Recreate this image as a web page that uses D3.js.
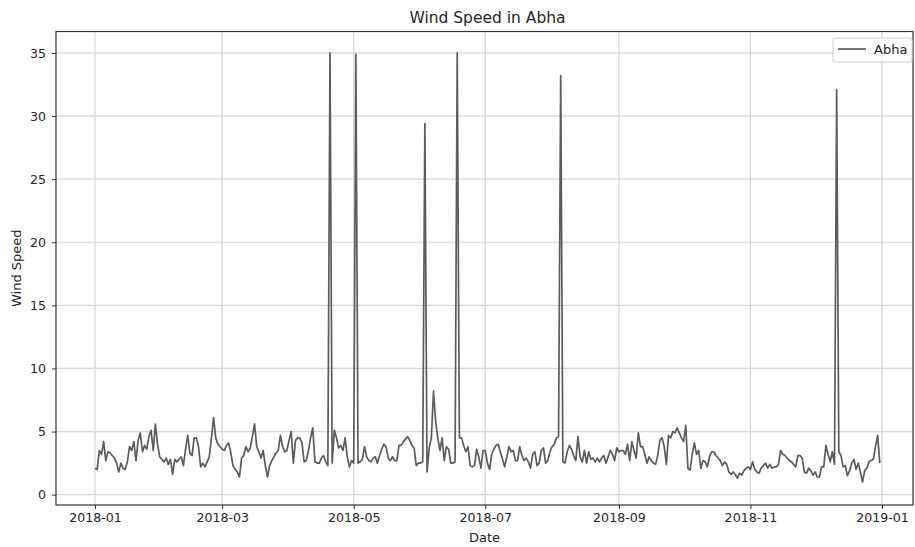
<!DOCTYPE html>
<html>
<head>
<meta charset="utf-8">
<script src="https://cdnjs.cloudflare.com/ajax/libs/d3/7.8.5/d3.min.js"></script>
<style>
body { margin: 0; background: #fff; }
text { font-family: "DejaVu Sans", sans-serif; fill: #262626; }
</style>
</head>
<body>
<div id="chart"></div>
<script>
// daily wind speed for Abha, 2018-01-01 .. 2018-12-31
var windSpeed = [
    2.1, 2.0, 3.5, 3.2, 4.2, 2.7, 3.4, 3.3, 3.1, 2.9,
    2.5, 1.8, 2.5, 2.1, 2.0, 2.6, 3.8, 3.5, 4.2, 2.7,
    4.3, 4.9, 3.4, 3.9, 3.6, 4.6, 5.1, 3.5, 5.6, 4.0,
    3.0, 2.8, 2.6, 2.9, 2.4, 2.8, 1.6, 2.8, 2.6, 2.8,
    3.0, 2.3, 3.6, 4.7, 3.3, 3.1, 4.5, 4.5, 3.8, 2.2,
    2.5, 2.2, 2.6, 3.0, 4.5, 6.1, 4.5, 4.0, 3.8, 3.6,
    3.5, 3.9, 4.1, 3.3, 2.3, 2.0, 1.8, 1.4, 2.9, 3.1,
    3.8, 3.4, 3.7, 4.6, 5.6, 3.8, 3.4, 2.9, 3.5, 2.3,
    1.4, 2.3, 2.7, 3.0, 3.3, 3.5, 4.7, 3.8, 3.4, 3.5,
    4.3, 5.0, 2.5, 4.3, 4.5, 4.5, 4.1, 2.6, 2.7, 3.5,
    4.5, 5.3, 2.6, 2.5, 2.5, 2.9, 3.1, 2.6, 2.3, 35.0,
    2.5, 5.1, 4.5, 3.7, 3.9, 3.5, 4.5, 3.0, 2.2, 2.7,
    2.5, 34.9, 2.5, 2.6, 2.8, 3.8, 3.0, 2.7, 2.6, 2.9,
    3.0, 2.5, 3.1, 3.6, 4.0, 3.8, 2.9, 2.7, 3.0, 2.7,
    2.7, 3.9, 3.9, 4.2, 4.4, 4.6, 4.3, 3.9, 3.7, 2.3,
    2.5, 2.5, 2.6, 29.4, 1.8, 3.7, 4.5, 8.2, 5.8, 4.5,
    3.5, 4.5, 2.7, 3.8, 3.6, 2.5, 2.5, 2.6, 35.0, 4.5,
    4.5, 3.9, 3.4, 3.8, 2.3, 2.2, 2.3, 3.6, 3.0, 2.1,
    3.5, 3.5, 2.5, 2.0, 3.2, 3.6, 3.9, 4.0, 3.4, 2.8,
    2.2, 3.0, 3.8, 3.4, 3.5, 2.7, 2.7, 3.8, 3.1, 2.7,
    2.9, 2.6, 2.1, 3.2, 3.4, 2.3, 2.5, 3.5, 3.7, 2.5,
    2.7, 3.4, 3.8, 4.0, 4.5, 4.6, 33.2, 2.6, 2.5, 3.4,
    3.9, 3.6, 3.1, 2.7, 4.6, 3.0, 2.6, 3.5, 2.5, 3.4,
    2.8, 2.9, 2.6, 2.9, 2.6, 2.9, 3.1, 2.5, 3.0, 3.5,
    3.2, 2.7, 3.7, 3.4, 3.5, 3.5, 3.2, 4.0, 2.7, 4.2,
    3.5, 2.9, 4.9, 3.8, 3.8, 3.2, 2.5, 3.0, 2.7, 2.5,
    2.4, 3.1, 4.3, 4.5, 3.8, 2.4, 4.7, 4.5, 5.0, 4.9,
    5.3, 4.9, 4.5, 4.2, 5.5, 2.1, 1.95, 3.2, 4.1, 3.2,
    3.5, 2.1, 2.7, 2.6, 2.2, 3.0, 3.4, 3.4, 3.1, 2.9,
    2.7, 2.3, 2.6, 2.4, 1.8, 1.6, 1.8, 1.6, 1.3, 1.7,
    1.55, 1.9, 2.1, 2.2, 2.0, 2.6, 2.0, 1.8, 1.7, 2.1,
    2.3, 2.5, 2.1, 2.4, 2.1, 2.2, 2.2, 2.4, 3.5, 3.2,
    3.1, 2.9, 2.7, 2.6, 2.4, 2.2, 3.1, 3.1, 2.9, 1.8,
    1.7, 2.1, 1.9, 1.55, 1.8, 1.4, 1.4, 2.2, 2.2, 3.9,
    3.2, 2.6, 3.4, 2.4, 32.1, 3.4, 3.1, 2.2, 2.3, 1.5,
    1.9, 2.5, 2.8, 2.0, 2.5, 1.8, 1.0, 1.9, 2.1, 2.6,
    2.7, 2.8, 3.8, 4.7, 2.5
];
var startDate = new Date(Date.UTC(2018, 0, 1));
var dates = d3.utcDay.range(startDate, d3.utcDay.offset(startDate, windSpeed.length));
var xTickDates = ["2018-01-01", "2018-03-01", "2018-05-01", "2018-07-01",
    "2018-09-01", "2018-11-01", "2019-01-01"].map(d => new Date(d + "T00:00:00Z"));
var yTicks = [0, 5, 10, 15, 20, 25, 30, 35];
var seriesName = "Abha";

var svgWidth = 915;
var svgHeight = 547;

var margin = { top: 31.5, right: 2, bottom: 42, left: 56 };
var width = svgWidth - margin.left - margin.right;
var height = svgHeight - margin.top - margin.bottom;

var svg = d3.select("#chart")
    .append("svg")
    .attr("width", svgWidth)
    .attr("height", svgHeight);

var chartGroup = svg.append("g")
    .attr("transform", `translate(${margin.left}, ${margin.top})`);

var dayMs = 864e5;
var xScale = d3.scaleUtc()
    .domain([new Date(+startDate - 18.09 * dayMs), new Date(+startDate + 379.4 * dayMs)])
    .range([0, width]);

var yScale = d3.scaleLinear()
    .domain([-0.82, 36.7])
    .range([height, 0]);

// grid
chartGroup.append("g")
    .selectAll("line.vgrid")
    .data(xTickDates)
    .enter()
    .append("line")
    .attr("x1", d => xScale(d))
    .attr("x2", d => xScale(d))
    .attr("y1", 0)
    .attr("y2", height)
    .attr("stroke", "#d4d4d4")
    .attr("stroke-width", 1.2);

chartGroup.append("g")
    .selectAll("line.hgrid")
    .data(yTicks)
    .enter()
    .append("line")
    .attr("x1", 0)
    .attr("x2", width)
    .attr("y1", d => yScale(d))
    .attr("y2", d => yScale(d))
    .attr("stroke", "#d4d4d4")
    .attr("stroke-width", 1.2);

// series
var line = d3.line()
    .x((d, i) => xScale(dates[i]))
    .y(d => yScale(d));

chartGroup.append("path")
    .datum(windSpeed)
    .attr("d", line)
    .attr("fill", "none")
    .attr("stroke", "#5c5c5c")
    .attr("stroke-width", 1.7)
    .attr("stroke-linejoin", "round");

// axes
var bottomAxis = d3.axisBottom(xScale)
    .tickValues(xTickDates)
    .tickFormat(d3.utcFormat("%Y-%m"))
    .tickSizeInner(4)
    .tickSizeOuter(0)
    .tickPadding(4);

var leftAxis = d3.axisLeft(yScale)
    .tickValues(yTicks)
    .tickSizeInner(4)
    .tickSizeOuter(0)
    .tickPadding(6);

var xAxis = chartGroup.append("g")
    .attr("transform", `translate(0, ${height})`)
    .call(bottomAxis);

var yAxis = chartGroup.append("g")
    .call(leftAxis);

[xAxis, yAxis].forEach(a => {
    a.select(".domain").remove();
    a.selectAll("line").attr("stroke", "#333");
    a.selectAll("text")
        .attr("font-family", "DejaVu Sans")
        .attr("font-size", 12.6)
        .attr("fill", "#262626");
});

// frame
chartGroup.append("rect")
    .attr("x", 0)
    .attr("y", 0)
    .attr("width", width)
    .attr("height", height)
    .attr("fill", "none")
    .attr("stroke", "#333")
    .attr("stroke-width", 1.2);

// title and labels
svg.append("text")
    .attr("x", margin.left + width / 2 + 3)
    .attr("y", 23)
    .attr("text-anchor", "middle")
    .attr("font-size", 15.5)
    .text("Wind Speed in Abha");

svg.append("text")
    .attr("x", margin.left + width / 2)
    .attr("y", 542)
    .attr("text-anchor", "middle")
    .attr("font-size", 13)
    .text("Date");

svg.append("text")
    .attr("transform", "rotate(-90)")
    .attr("x", -(margin.top + height / 2))
    .attr("y", 21)
    .attr("text-anchor", "middle")
    .attr("font-size", 13)
    .text("Wind Speed");

// legend
var legend = svg.append("g")
    .attr("transform", "translate(833, 38)");

legend.append("rect")
    .attr("width", 79)
    .attr("height", 24)
    .attr("rx", 2)
    .attr("fill", "#fff")
    .attr("fill-opacity", 0.85)
    .attr("stroke", "#d0d0d0");

legend.append("line")
    .attr("x1", 5)
    .attr("x2", 33)
    .attr("y1", 11)
    .attr("y2", 11)
    .attr("stroke", "#5c5c5c")
    .attr("stroke-width", 1.7);

legend.append("text")
    .attr("x", 41)
    .attr("y", 16)
    .attr("font-size", 13)
    .text(seriesName);
</script>
</body>
</html>
